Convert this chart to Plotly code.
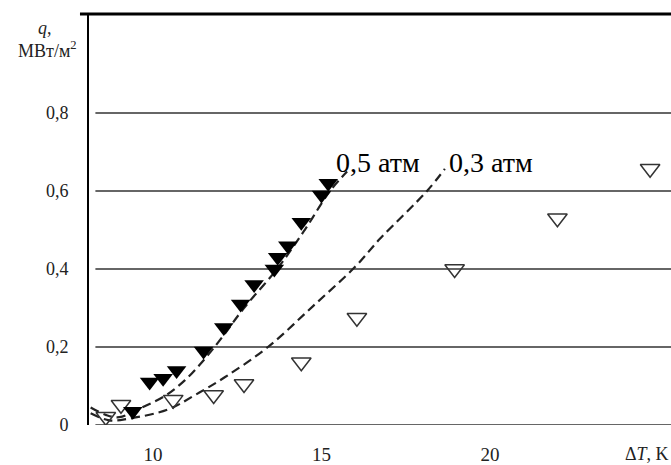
import plotly.graph_objects as go

# Measured heat flux vs. wall superheat
dt_05 = [9.4, 9.9, 10.3, 10.7, 11.5, 12.1, 12.6, 13.0, 13.6, 13.7, 14.0, 14.4, 15.0, 15.2]
q_05 = [0.035, 0.11, 0.12, 0.14, 0.19, 0.25, 0.31, 0.36, 0.40, 0.43, 0.46, 0.52, 0.59, 0.62]

dt_03 = [8.6, 9.05, 10.6, 11.8, 12.7, 14.4, 16.05, 18.95, 22.0, 24.75]
q_03 = [0.021, 0.052, 0.065, 0.077, 0.105, 0.161, 0.275, 0.40, 0.53, 0.657]

# Approximating curves
fit_dt_05 = [8.15, 8.6, 9.0, 9.67, 10.36, 10.95, 11.54, 12.05, 12.7, 13.68, 14.5, 15.25, 15.76]
fit_q_05 = [0.045, 0.026, 0.02, 0.045, 0.075, 0.115, 0.17, 0.225, 0.3, 0.4, 0.5, 0.6, 0.65]

fit_dt_03 = [8.15, 8.7, 9.26, 10.45, 11.25, 12.14, 13.41, 14.75, 15.99, 16.74, 18.13, 18.66]
fit_q_03 = [0.03, 0.012, 0.016, 0.04, 0.077, 0.123, 0.2, 0.305, 0.405, 0.478, 0.6, 0.657]

x_ticks = [10, 15, 20]
x_labels = ["10", "15", "20"]
y_ticks = [0, 0.2, 0.4, 0.6, 0.8]
y_labels = ["0", "0,2", "0,4", "0,6", "0,8"]

curve_labels = ["0,5 атм", "0,3 атм"]

SERIF = "Liberation Serif, Times New Roman, serif"
INK = "#222222"

fig = go.Figure()

dash = dict(color="#222222", width=2.2, dash="9px,5px")
fig.add_trace(go.Scatter(x=fit_dt_05, y=fit_q_05, mode="lines",
                         line=dict(shape="spline", **dash), hoverinfo="skip"))
fig.add_trace(go.Scatter(x=fit_dt_03, y=fit_q_03, mode="lines",
                         line=dict(shape="spline", **dash), hoverinfo="skip"))

fig.add_trace(go.Scatter(x=dt_03, y=q_03, mode="markers",
                         marker=dict(symbol="triangle-down-open", size=17,
                                     color="#333333", line=dict(width=1.5))))
fig.add_trace(go.Scatter(x=dt_05, y=q_05, mode="markers",
                         marker=dict(symbol="triangle-down", size=17,
                                     color="black", line=dict(width=0))))

# horizontal grid lines, starting a little right of the axis
shapes = []
for v in y_ticks:
    shapes.append(dict(type="line", xref="paper", yref="y", x0=0.011, x1=1,
                       y0=v, y1=v, line=dict(color="#333333", width=1.5),
                       layer="below"))
# heavy frame line at the top
shapes.append(dict(type="line", xref="paper", yref="paper", x0=-0.0155, x1=1,
                   y0=1, y1=1, line=dict(color="black", width=3)))

annotations = [
    dict(x=16.68, y=0.672, xref="x", yref="y", text=curve_labels[0],
         showarrow=False, font=dict(family=SERIF, size=28, color="black")),
    dict(x=20.03, y=0.672, xref="x", yref="y", text=curve_labels[1],
         showarrow=False, font=dict(family=SERIF, size=28, color="black")),
    dict(x=24.66, y=0, xref="x", yref="paper", xanchor="center", yanchor="top",
         yshift=-17, text="Δ<i>T</i>, K", showarrow=False,
         font=dict(family=SERIF, size=18, color=INK)),
    dict(x=-0.0756, y=0.966, xref="paper", yref="paper", xanchor="center",
         yanchor="middle", text="<i>q</i>,", showarrow=False,
         font=dict(family=SERIF, size=18, color=INK)),
    dict(x=-0.072, y=0.913, xref="paper", yref="paper", xanchor="center",
         yanchor="middle", text="МВт/м<sup>2</sup>", showarrow=False,
         font=dict(family=SERIF, size=18, color=INK)),
]

fig.update_layout(
    width=671, height=465,
    margin=dict(l=89, r=0, t=14, b=37),
    paper_bgcolor="white", plot_bgcolor="white",
    showlegend=False,
    shapes=shapes,
    annotations=annotations,
    xaxis=dict(range=[8.101, 25.37], tickvals=x_ticks, ticktext=x_labels,
               showgrid=False, zeroline=False, showline=False, ticks="",
               ticklabelstandoff=16,
               tickfont=dict(family=SERIF, size=19, color=INK)),
    yaxis=dict(range=[0, 1.054], tickvals=y_ticks, ticktext=y_labels,
               showgrid=False, zeroline=False, showline=True,
               linecolor="black", linewidth=2, ticks="",
               ticklabelstandoff=15,
               tickfont=dict(family=SERIF, size=18, color=INK)),
)

fig.write_html("out.html")
